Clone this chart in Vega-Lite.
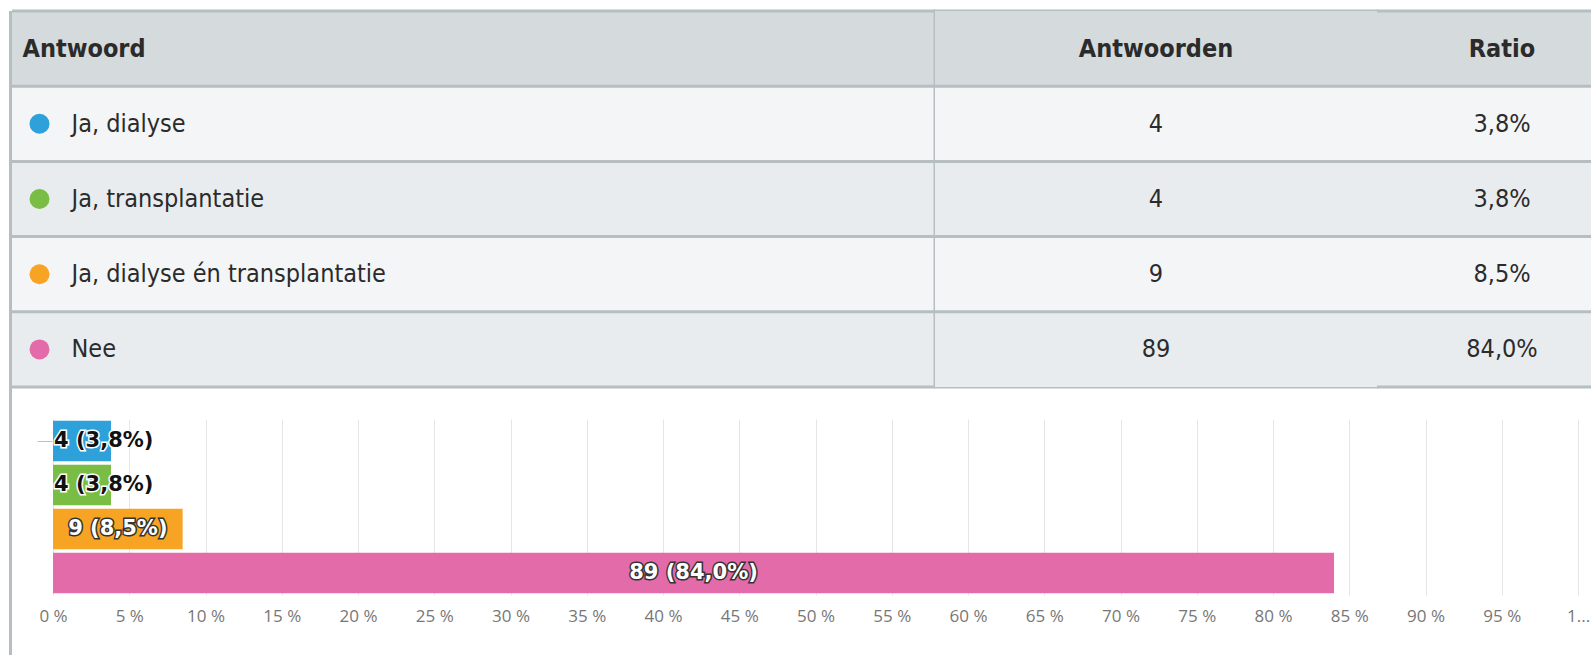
{
  "$schema": "https://vega.github.io/schema/vega-lite/v6.json",
  "background": "white",
  "padding": {"left": 9, "top": 9, "right": 0, "bottom": 0},
  "datasets": {
    "answers": [
      {"answer": "Ja, dialyse", "count": 4, "ratio": 3.8, "ratioText": "3,8%", "label": "4 (3,8%)"},
      {"answer": "Ja, transplantatie", "count": 4, "ratio": 3.8, "ratioText": "3,8%", "label": "4 (3,8%)"},
      {"answer": "Ja, dialyse én transplantatie", "count": 9, "ratio": 8.5, "ratioText": "8,5%", "label": "9 (8,5%)"},
      {"answer": "Nee", "count": 89, "ratio": 84.0, "ratioText": "84,0%", "label": "89 (84,0%)"}
    ]
  },
  "data": {"name": "answers"},
  "spacing": 0,
  "bounds": "flush",
  "hconcat": [
    {
      "width": 3, "height": 646,
      "data": {"values": [{}]},
      "view": {"fill": "#b7bec2", "stroke": null},
      "mark": {"type": "rect", "color": "#b7bec2"}
    },
    {
      "spacing": 30,
      "bounds": "full",
      "vconcat": [
        {
          "spacing": 0,
          "bounds": "flush",
          "hconcat": [
            {
              "width": 55, "height": 376,
              "layer": [
                {"mark": {"type": "rect"}, "encoding": {"y": {"field": "answer", "type": "nominal", "scale": {"domain": ["Antwoord", "Ja, dialyse", "Ja, transplantatie", "Ja, dialyse én transplantatie", "Nee"], "paddingInner": 0, "paddingOuter": 0}, "axis": null}, "fill": {"condition": {"test": "datum.answer === 'Ja, dialyse' || datum.answer === 'Ja, dialyse én transplantatie'", "value": "#f4f5f6"}, "value": "#e9ecee"}}},
                {"data": {"values": [{}]}, "mark": {"type": "rect", "fill": "#d5dadd"}, "encoding": {"y": {"datum": "Antwoord", "type": "nominal", "scale": {"domain": ["Antwoord", "Ja, dialyse", "Ja, transplantatie", "Ja, dialyse én transplantatie", "Nee"], "paddingInner": 0, "paddingOuter": 0}, "axis": null}}},
                {"mark": {"type": "rule", "color": "#b7bec2", "strokeWidth": 3}, "encoding": {"y": {"field": "answer", "type": "nominal", "bandPosition": 0, "scale": {"domain": ["Antwoord", "Ja, dialyse", "Ja, transplantatie", "Ja, dialyse én transplantatie", "Nee"], "paddingInner": 0, "paddingOuter": 0}, "axis": null}}},
                {"data": {"values": [{}]}, "mark": {"type": "rule", "color": "#b7bec2", "strokeWidth": 3}, "encoding": {"y": {"datum": "Antwoord", "type": "nominal", "bandPosition": 0, "scale": {"domain": ["Antwoord", "Ja, dialyse", "Ja, transplantatie", "Ja, dialyse én transplantatie", "Nee"], "paddingInner": 0, "paddingOuter": 0}, "axis": null}}},
                {"data": {"values": [{}]}, "mark": {"type": "rule", "color": "#b7bec2", "strokeWidth": 3}, "encoding": {"y": {"datum": "Nee", "type": "nominal", "bandPosition": 1, "scale": {"domain": ["Antwoord", "Ja, dialyse", "Ja, transplantatie", "Ja, dialyse én transplantatie", "Nee"], "paddingInner": 0, "paddingOuter": 0}, "axis": null}}},
                {"mark": {"type": "circle", "size": 400, "opacity": 1}, "encoding": {"y": {"field": "answer", "type": "nominal", "scale": {"domain": ["Antwoord", "Ja, dialyse", "Ja, transplantatie", "Ja, dialyse én transplantatie", "Nee"], "paddingInner": 0, "paddingOuter": 0}, "axis": null}, "color": {"field": "answer", "type": "nominal", "scale": {"domain": ["Ja, dialyse", "Ja, transplantatie", "Ja, dialyse én transplantatie", "Nee"], "range": ["#2ea0da", "#7abd45", "#f7a424", "#e46ba9"]}, "legend": null}}}
              ]
            },
            {
              "width": 868, "height": 376,
              "layer": [
                {"mark": {"type": "rect"}, "encoding": {"y": {"field": "answer", "type": "nominal", "scale": {"domain": ["Antwoord", "Ja, dialyse", "Ja, transplantatie", "Ja, dialyse én transplantatie", "Nee"], "paddingInner": 0, "paddingOuter": 0}, "axis": {"orient": "left", "title": null, "ticks": false, "tickSize": 0, "domain": false, "grid": false, "labelAlign": "left", "labelBaseline": "middle", "labelOverlap": false, "labelLimit": 0, "labelFont": "Liberation Sans Narrow, DejaVu Sans Condensed, Arial Narrow, sans-serif", "labelFontSize": 25, "labelColor": "#2b2b2b", "labelPadding": {"condition": {"test": "datum.value === 'Antwoord'", "value": 45}, "value": -4}, "labelFontWeight": {"condition": {"test": "datum.value === 'Antwoord'", "value": "bold"}, "value": "normal"}}}, "fill": {"condition": {"test": "datum.answer === 'Ja, dialyse' || datum.answer === 'Ja, dialyse én transplantatie'", "value": "#f4f5f6"}, "value": "#e9ecee"}}},
                {"data": {"values": [{}]}, "mark": {"type": "rect", "fill": "#d5dadd"}, "encoding": {"y": {"datum": "Antwoord", "type": "nominal", "scale": {"domain": ["Antwoord", "Ja, dialyse", "Ja, transplantatie", "Ja, dialyse én transplantatie", "Nee"], "paddingInner": 0, "paddingOuter": 0}}}},
                {"mark": {"type": "rule", "color": "#b7bec2", "strokeWidth": 3}, "encoding": {"y": {"field": "answer", "type": "nominal", "bandPosition": 0, "scale": {"domain": ["Antwoord", "Ja, dialyse", "Ja, transplantatie", "Ja, dialyse én transplantatie", "Nee"], "paddingInner": 0, "paddingOuter": 0}}}},
                {"data": {"values": [{}]}, "mark": {"type": "rule", "color": "#b7bec2", "strokeWidth": 3}, "encoding": {"y": {"datum": "Antwoord", "type": "nominal", "bandPosition": 0, "scale": {"domain": ["Antwoord", "Ja, dialyse", "Ja, transplantatie", "Ja, dialyse én transplantatie", "Nee"], "paddingInner": 0, "paddingOuter": 0}}}},
                {"data": {"values": [{}]}, "mark": {"type": "rule", "color": "#b7bec2", "strokeWidth": 3}, "encoding": {"y": {"datum": "Nee", "type": "nominal", "bandPosition": 1, "scale": {"domain": ["Antwoord", "Ja, dialyse", "Ja, transplantatie", "Ja, dialyse én transplantatie", "Nee"], "paddingInner": 0, "paddingOuter": 0}}}}
              ]
            },
            {
              "width": 442, "height": 376,
              "view": {"stroke": "#b7bec2", "strokeWidth": 3},
              "layer": [
                {"mark": {"type": "rect"}, "encoding": {"y": {"field": "answer", "type": "nominal", "scale": {"domain": ["Antwoord", "Ja, dialyse", "Ja, transplantatie", "Ja, dialyse én transplantatie", "Nee"], "paddingInner": 0, "paddingOuter": 0}, "axis": null}, "fill": {"condition": {"test": "datum.answer === 'Ja, dialyse' || datum.answer === 'Ja, dialyse én transplantatie'", "value": "#f4f5f6"}, "value": "#e9ecee"}}},
                {"data": {"values": [{}]}, "mark": {"type": "rect", "fill": "#d5dadd"}, "encoding": {"y": {"datum": "Antwoord", "type": "nominal", "scale": {"domain": ["Antwoord", "Ja, dialyse", "Ja, transplantatie", "Ja, dialyse én transplantatie", "Nee"], "paddingInner": 0, "paddingOuter": 0}, "axis": null}}},
                {"mark": {"type": "rule", "color": "#b7bec2", "strokeWidth": 3}, "encoding": {"y": {"field": "answer", "type": "nominal", "bandPosition": 0, "scale": {"domain": ["Antwoord", "Ja, dialyse", "Ja, transplantatie", "Ja, dialyse én transplantatie", "Nee"], "paddingInner": 0, "paddingOuter": 0}, "axis": null}}},
                {"mark": {"type": "text", "font": "Liberation Sans Narrow, DejaVu Sans Condensed, Arial Narrow, sans-serif", "fontSize": 25, "color": "#2b2b2b"}, "encoding": {"y": {"field": "answer", "type": "nominal", "scale": {"domain": ["Antwoord", "Ja, dialyse", "Ja, transplantatie", "Ja, dialyse én transplantatie", "Nee"], "paddingInner": 0, "paddingOuter": 0}, "axis": null}, "text": {"field": "count"}}},
                {"data": {"values": [{}]}, "mark": {"type": "text", "font": "Liberation Sans Narrow, DejaVu Sans Condensed, Arial Narrow, sans-serif", "fontSize": 25, "fontWeight": "bold", "color": "#2b2b2b"}, "encoding": {"y": {"datum": "Antwoord", "type": "nominal", "scale": {"domain": ["Antwoord", "Ja, dialyse", "Ja, transplantatie", "Ja, dialyse én transplantatie", "Nee"], "paddingInner": 0, "paddingOuter": 0}, "axis": null}, "text": {"value": "Antwoorden"}}}
              ]
            },
            {
              "width": 214, "height": 376,
              "layer": [
                {"mark": {"type": "rect"}, "encoding": {"y": {"field": "answer", "type": "nominal", "scale": {"domain": ["Antwoord", "Ja, dialyse", "Ja, transplantatie", "Ja, dialyse én transplantatie", "Nee"], "paddingInner": 0, "paddingOuter": 0}, "axis": null}, "fill": {"condition": {"test": "datum.answer === 'Ja, dialyse' || datum.answer === 'Ja, dialyse én transplantatie'", "value": "#f4f5f6"}, "value": "#e9ecee"}}},
                {"data": {"values": [{}]}, "mark": {"type": "rect", "fill": "#d5dadd"}, "encoding": {"y": {"datum": "Antwoord", "type": "nominal", "scale": {"domain": ["Antwoord", "Ja, dialyse", "Ja, transplantatie", "Ja, dialyse én transplantatie", "Nee"], "paddingInner": 0, "paddingOuter": 0}, "axis": null}}},
                {"mark": {"type": "rule", "color": "#b7bec2", "strokeWidth": 3}, "encoding": {"y": {"field": "answer", "type": "nominal", "bandPosition": 0, "scale": {"domain": ["Antwoord", "Ja, dialyse", "Ja, transplantatie", "Ja, dialyse én transplantatie", "Nee"], "paddingInner": 0, "paddingOuter": 0}, "axis": null}}},
                {"data": {"values": [{}]}, "mark": {"type": "rule", "color": "#b7bec2", "strokeWidth": 3}, "encoding": {"y": {"datum": "Antwoord", "type": "nominal", "bandPosition": 0, "scale": {"domain": ["Antwoord", "Ja, dialyse", "Ja, transplantatie", "Ja, dialyse én transplantatie", "Nee"], "paddingInner": 0, "paddingOuter": 0}, "axis": null}}},
                {"data": {"values": [{}]}, "mark": {"type": "rule", "color": "#b7bec2", "strokeWidth": 3}, "encoding": {"y": {"datum": "Nee", "type": "nominal", "bandPosition": 1, "scale": {"domain": ["Antwoord", "Ja, dialyse", "Ja, transplantatie", "Ja, dialyse én transplantatie", "Nee"], "paddingInner": 0, "paddingOuter": 0}, "axis": null}}},
                {"mark": {"type": "text", "font": "Liberation Sans Narrow, DejaVu Sans Condensed, Arial Narrow, sans-serif", "fontSize": 25, "color": "#2b2b2b", "dx": 18}, "encoding": {"y": {"field": "answer", "type": "nominal", "scale": {"domain": ["Antwoord", "Ja, dialyse", "Ja, transplantatie", "Ja, dialyse én transplantatie", "Nee"], "paddingInner": 0, "paddingOuter": 0}, "axis": null}, "text": {"field": "ratioText"}}},
                {"data": {"values": [{}]}, "mark": {"type": "text", "font": "Liberation Sans Narrow, DejaVu Sans Condensed, Arial Narrow, sans-serif", "fontSize": 25, "fontWeight": "bold", "color": "#2b2b2b", "dx": 18}, "encoding": {"y": {"datum": "Antwoord", "type": "nominal", "scale": {"domain": ["Antwoord", "Ja, dialyse", "Ja, transplantatie", "Ja, dialyse én transplantatie", "Nee"], "paddingInner": 0, "paddingOuter": 0}, "axis": null}, "text": {"value": "Ratio"}}}
              ]
            }
          ]
        },
        {
          "width": 1579, "height": 176,
          "layer": [
            {
              "mark": {"type": "bar"},
              "encoding": {
                "x": {"field": "ratio", "type": "quantitative", "scale": {"domain": [-2.69, 100.85], "nice": false, "zero": false},
                  "axis": {"values": [0, 5, 10, 15, 20, 25, 30, 35, 40, 45, 50, 55, 60, 65, 70, 75, 80, 85, 90, 95, 100], "labelExpr": "datum.value == 100 ? '1...' : datum.value + ' %'", "ticks": false, "domain": false, "grid": true, "gridColor": "#e6e6e6", "gridWidth": 1, "title": null, "labelFlush": false, "labelOverlap": false, "labelFont": "Open Sans", "labelFontSize": 17, "labelColor": "#777777", "labelPadding": 13}},
                "x2": {"datum": 0},
                "y": {"field": "answer", "type": "nominal", "scale": {"domain": ["Ja, dialyse", "Ja, transplantatie", "Ja, dialyse én transplantatie", "Nee"], "paddingInner": 0.08, "paddingOuter": 0.04},
                  "axis": {"values": ["Ja, dialyse"], "labels": false, "domain": false, "ticks": true, "tickSize": 15, "tickWidth": 1, "tickColor": "#c0c0c0", "offset": -40, "title": null, "grid": false}},
                "color": {"field": "answer", "type": "nominal", "scale": {"domain": ["Ja, dialyse", "Ja, transplantatie", "Ja, dialyse én transplantatie", "Nee"], "range": ["#2ea0da", "#7abd45", "#f7a424", "#e46ba9"]}, "legend": null}
              }
            },
            {
              "transform": [{"filter": "datum.count < 5"}],
              "mark": {"type": "text", "align": "left", "dx": 1, "font": "DejaVu Sans", "fontWeight": "bold", "fontSize": 21, "fill": "white", "stroke": "white", "strokeWidth": 3},
              "encoding": {
                "x": {"datum": 0, "type": "quantitative", "scale": {"domain": [-2.69, 100.85], "nice": false, "zero": false}, "axis": null},
                "y": {"field": "answer", "type": "nominal", "scale": {"domain": ["Ja, dialyse", "Ja, transplantatie", "Ja, dialyse én transplantatie", "Nee"], "paddingInner": 0.08, "paddingOuter": 0.04}},
                "text": {"field": "label"}
              }
            },
            {
              "transform": [{"filter": "datum.count < 5"}],
              "mark": {"type": "text", "align": "left", "dx": 1, "font": "DejaVu Sans", "fontWeight": "bold", "fontSize": 21, "fill": "#111111"},
              "encoding": {
                "x": {"datum": 0, "type": "quantitative", "scale": {"domain": [-2.69, 100.85], "nice": false, "zero": false}, "axis": null},
                "y": {"field": "answer", "type": "nominal", "scale": {"domain": ["Ja, dialyse", "Ja, transplantatie", "Ja, dialyse én transplantatie", "Nee"], "paddingInner": 0.08, "paddingOuter": 0.04}},
                "text": {"field": "label"}
              }
            },
            {
              "transform": [{"filter": "datum.count >= 5"}],
              "mark": {"type": "text", "font": "DejaVu Sans", "fontWeight": "bold", "fontSize": 21, "fill": "#333333", "stroke": "#333333", "strokeWidth": 3},
              "encoding": {
                "x": {"field": "ratio", "type": "quantitative", "scale": {"domain": [-5.38, 201.7], "nice": false, "zero": false}, "axis": null},
                "y": {"field": "answer", "type": "nominal", "scale": {"domain": ["Ja, dialyse", "Ja, transplantatie", "Ja, dialyse én transplantatie", "Nee"], "paddingInner": 0.08, "paddingOuter": 0.04}},
                "text": {"field": "label"}
              }
            },
            {
              "transform": [{"filter": "datum.count >= 5"}],
              "mark": {"type": "text", "font": "DejaVu Sans", "fontWeight": "bold", "fontSize": 21, "fill": "white"},
              "encoding": {
                "x": {"field": "ratio", "type": "quantitative", "scale": {"domain": [-5.38, 201.7], "nice": false, "zero": false}, "axis": null},
                "y": {"field": "answer", "type": "nominal", "scale": {"domain": ["Ja, dialyse", "Ja, transplantatie", "Ja, dialyse én transplantatie", "Nee"], "paddingInner": 0.08, "paddingOuter": 0.04}},
                "text": {"field": "label"}
              }
            }
          ],
          "resolve": {"scale": {"x": "independent"}}
        }
      ]
    }
  ],
  "config": {"view": {"stroke": null}}
}
